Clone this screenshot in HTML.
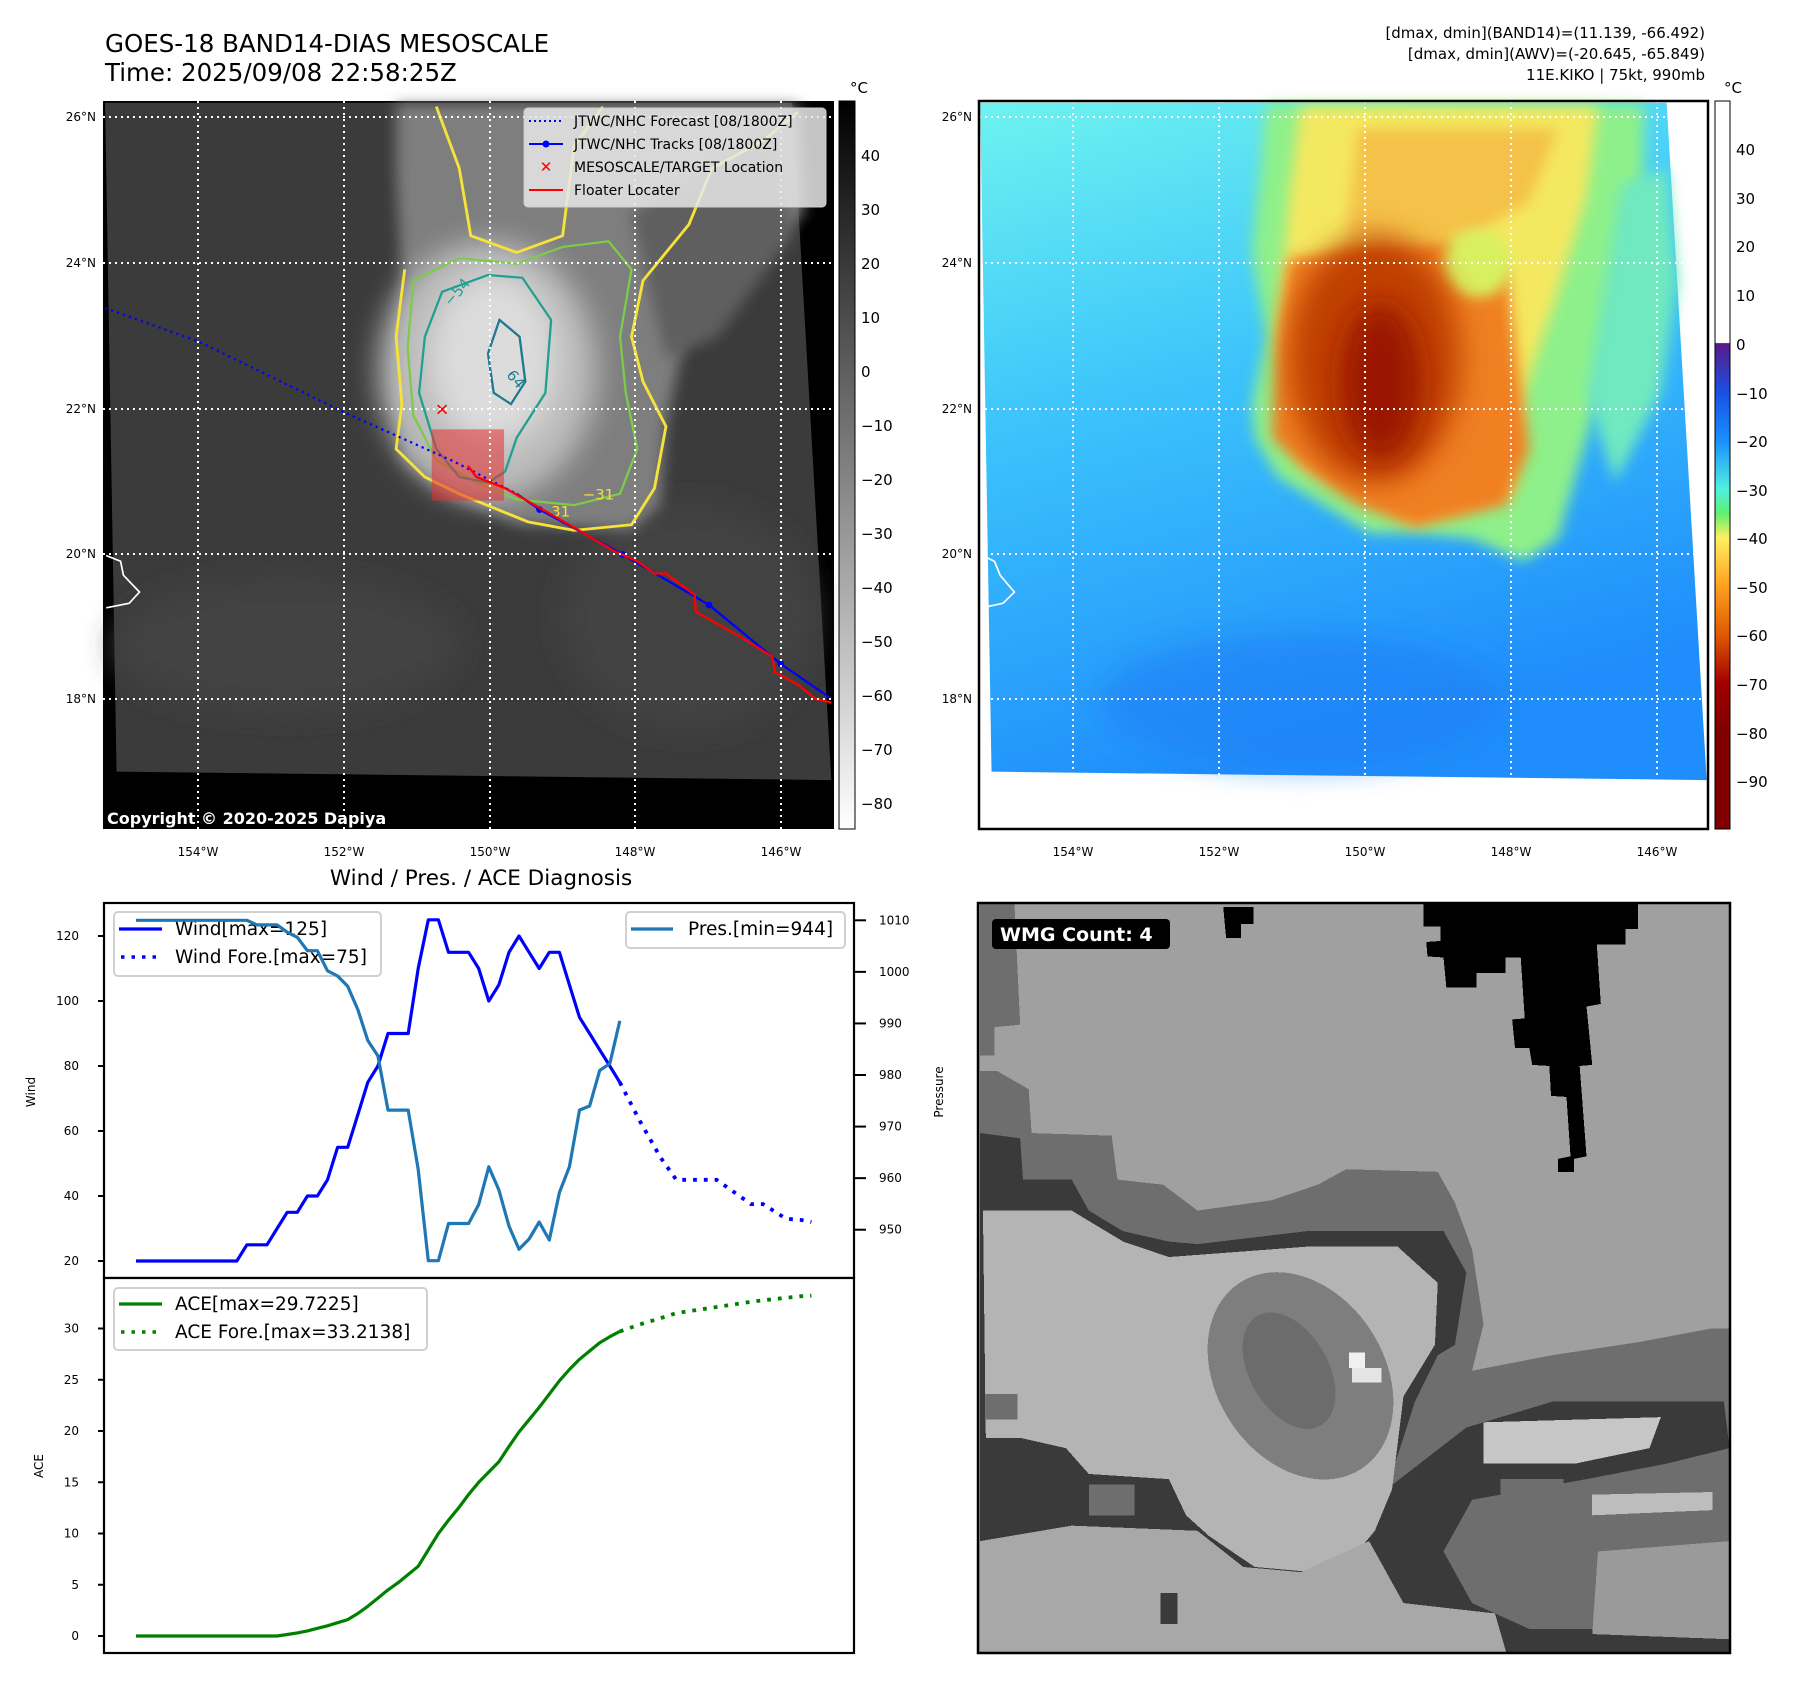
<!DOCTYPE html>
<html><head><meta charset="utf-8">
<style>
html,body{margin:0;padding:0;background:#fff;}
body{width:1797px;height:1690px;overflow:hidden;position:relative;font-family:"DejaVu Sans","Liberation Sans",sans-serif;}
svg text{font-family:"DejaVu Sans","Liberation Sans",sans-serif;}
</style></head>
<body>
<svg id="root" width="1797" height="1690" viewBox="0 0 1797 1690" xmlns="http://www.w3.org/2000/svg">
<defs>
  <filter id="blur6" x="-20%" y="-20%" width="140%" height="140%"><feGaussianBlur stdDeviation="6"/></filter>
  <filter id="blur12" x="-30%" y="-30%" width="160%" height="160%"><feGaussianBlur stdDeviation="12"/></filter>
  <filter id="blur25" x="-40%" y="-40%" width="180%" height="180%"><feGaussianBlur stdDeviation="25"/></filter>
  <linearGradient id="grayBar" x1="0" y1="0" x2="0" y2="1">
    <stop offset="0" stop-color="#000"/><stop offset="1" stop-color="#fff"/>
  </linearGradient>
  <linearGradient id="rainBar" x1="0" y1="0" x2="0" y2="1">
    <stop offset="0" stop-color="#fff"/><stop offset="0.332" stop-color="#fff"/>
    <stop offset="0.333" stop-color="#5a1a8a"/><stop offset="0.4" stop-color="#1a50e0"/>
    <stop offset="0.467" stop-color="#1a90ff"/><stop offset="0.533" stop-color="#50f0e0"/>
    <stop offset="0.567" stop-color="#60f070"/><stop offset="0.6" stop-color="#fff060"/>
    <stop offset="0.667" stop-color="#ffa020"/><stop offset="0.733" stop-color="#e05a00"/>
    <stop offset="0.8" stop-color="#a00000"/><stop offset="0.867" stop-color="#800000"/>
    <stop offset="1" stop-color="#800000"/>
  </linearGradient>
  <linearGradient id="seaGrad" x1="0" y1="0" x2="0.3" y2="1">
    <stop offset="0" stop-color="#6ef3ef"/><stop offset="0.45" stop-color="#3cc4fb"/>
    <stop offset="1" stop-color="#1f8dfb"/>
  </linearGradient>
</defs>

<!-- ============ TOP-LEFT MAP ============ -->
<g>
  <text x="105" y="52" font-size="24.5" fill="#000">GOES-18 BAND14-DIAS MESOSCALE</text>
  <text x="105" y="81" font-size="24.5" fill="#000">Time: 2025/09/08 22:58:25Z</text>
  <rect x="103" y="101" width="731" height="728" fill="#000"/>
  <g transform="scale(0.5741,0.5612)">
    <polygon points="183,183 1380,183 1448,1390 203,1375" fill="#3b3b3b"/>
    <ellipse cx="500" cy="1150" rx="300" ry="120" fill="#434343" filter="url(#blur25)"/>
    <ellipse cx="1200" cy="1100" rx="220" ry="200" fill="#424242" filter="url(#blur25)"/>
    <polygon points="690,185 1390,185 1400,380 1200,560 1160,760 1150,900 1100,945 900,935 780,880 700,820 690,700 700,500 690,300" fill="#7e7e7e" filter="url(#blur12)"/>
    <polygon points="1100,380 1350,230 1380,420 1250,600 1160,640" fill="#5e5e5e" filter="url(#blur12)"/>
    <ellipse cx="850" cy="660" rx="190" ry="230" fill="#bcbcbc" filter="url(#blur25)"/>
    <ellipse cx="860" cy="640" rx="110" ry="150" fill="#dcdcdc" filter="url(#blur25)"/>
    <path d="M705,480 L690,600 L700,720 L690,800 L740,850 L800,880 L860,905 L920,930 L1000,945 L1100,935 L1140,870 L1160,760 L1120,680 L1100,600 L1120,500 L1200,400 L1240,300 L1330,250 L1390,200 M1050,190 L1000,260 L980,420 L900,450 L820,420 L800,300 L760,190" fill="none" stroke="#f5e23a" stroke-width="5"/>
    <path d="M720,500 L710,620 L720,740 L760,820 L830,860 L900,890 L1000,900 L1080,880 L1110,800 L1090,700 L1080,600 L1100,480 L1060,430 L980,440 L900,470 L800,460 Z" fill="none" stroke="#7ccb4c" stroke-width="4"/>
    <path d="M770,520 L850,490 L910,495 L960,570 L950,700 L900,780 L880,840 L850,860 L800,850 L760,800 L730,700 L740,600 Z" fill="none" stroke="#20a090" stroke-width="4"/>
    <path d="M870,570 L905,600 L915,680 L890,720 L860,700 L850,630 Z" fill="none" stroke="#1f7a90" stroke-width="4"/>
    <text x="770" y="545" font-size="26" fill="#20a090" transform="rotate(-50 780 530)">−54</text>
    <text x="885" y="680" font-size="26" fill="#1f7a90" transform="rotate(50 895 670)">64</text>
    <text x="960" y="920" font-size="26" fill="#f5e23a">31</text>
    <text x="1015" y="890" font-size="26" fill="#f5e23a">−31</text>
    <path d="M185,990 L210,1000 L215,1025 L243,1055 L225,1075 L185,1083" fill="none" stroke="#fff" stroke-width="3"/>
    <rect x="752" y="765" width="126" height="127" fill="#e83030" fill-opacity="0.55"/>
    <path d="M183,549 L345,608 L600,735 L790,822 L900,880" fill="none" stroke="#0000ff" stroke-width="4" stroke-dasharray="4 7"/>
    <path d="M900,880 L940,908 L1085,988 L1235,1078 L1360,1183 L1448,1245" fill="none" stroke="#0000ff" stroke-width="4"/>
    <circle cx="940" cy="908" r="6" fill="#0000ff"/><circle cx="1085" cy="988" r="6" fill="#0000ff"/>
    <circle cx="1235" cy="1078" r="6" fill="#0000ff"/><circle cx="1360" cy="1183" r="6" fill="#0000ff"/>
    <path d="M815,830 L830,850 L880,870 L940,905 L1000,940 L1070,982 L1110,1000 L1140,1022 L1160,1022 L1210,1060 L1212,1090 L1250,1112 L1290,1135 L1345,1170 L1350,1198 L1390,1220 L1420,1245 L1448,1252" fill="none" stroke="#ff0000" stroke-width="4"/>
    <text x="770" y="740" font-size="30" font-weight="bold" fill="#ff0000" text-anchor="middle">✕</text>
  </g>
  <g stroke="#fff" stroke-width="2" stroke-dasharray="2 4">
    <line x1="103" y1="117" x2="834" y2="117"/><line x1="103" y1="263" x2="834" y2="263"/>
    <line x1="103" y1="409" x2="834" y2="409"/><line x1="103" y1="554" x2="834" y2="554"/>
    <line x1="103" y1="699" x2="834" y2="699"/>
    <line x1="198" y1="101" x2="198" y2="829"/><line x1="344" y1="101" x2="344" y2="829"/>
    <line x1="490" y1="101" x2="490" y2="829"/><line x1="635" y1="101" x2="635" y2="829"/>
    <line x1="781" y1="101" x2="781" y2="829"/>
  </g>
  <g>
    <rect x="524" y="108" width="302" height="99" rx="4" fill="#e8e8e8" fill-opacity="0.85" stroke="#ccc"/>
    <line x1="529" y1="121" x2="563" y2="121" stroke="#0000ff" stroke-width="2" stroke-dasharray="2 3"/>
    <text x="574" y="126" font-size="14">JTWC/NHC Forecast [08/1800Z]</text>
    <line x1="529" y1="144" x2="563" y2="144" stroke="#0000ff" stroke-width="2"/><circle cx="546" cy="144" r="3.5" fill="#0000ff"/>
    <text x="574" y="149" font-size="14">JTWC/NHC Tracks [08/1800Z]</text>
    <text x="546" y="172" font-size="15" font-weight="bold" fill="#ff0000" text-anchor="middle">✕</text>
    <text x="574" y="172" font-size="14">MESOSCALE/TARGET Location</text>
    <line x1="529" y1="190" x2="563" y2="190" stroke="#ff0000" stroke-width="2"/>
    <text x="574" y="195" font-size="14">Floater Locater</text>
  </g>
  <text x="107" y="824" font-size="16" font-weight="bold" fill="#fff">Copyright © 2020-2025 Dapiya</text>
  <g font-size="12" text-anchor="end">
    <text x="96" y="121">26°N</text><text x="96" y="267">24°N</text><text x="96" y="413">22°N</text><text x="96" y="558">20°N</text><text x="96" y="703">18°N</text>
  </g>
  <g font-size="12" text-anchor="middle">
    <text x="198" y="856">154°W</text><text x="344" y="856">152°W</text><text x="490" y="856">150°W</text><text x="635" y="856">148°W</text><text x="781" y="856">146°W</text>
  </g>
  <rect x="839" y="101" width="16" height="728" fill="url(#grayBar)" stroke="#000"/>
  <text x="850" y="93" font-size="15">°C</text>
  <g font-size="15">
    <text x="861" y="161">40</text><text x="861" y="215">30</text><text x="861" y="269">20</text><text x="861" y="323">10</text><text x="861" y="377">0</text>
    <text x="861" y="431">−10</text><text x="861" y="485">−20</text><text x="861" y="539">−30</text><text x="861" y="593">−40</text><text x="861" y="647">−50</text>
    <text x="861" y="701">−60</text><text x="861" y="755">−70</text><text x="861" y="809">−80</text>
  </g>
</g>

<!-- ============ TOP-RIGHT MAP ============ -->
<g>
  <g font-size="15" text-anchor="end">
    <text x="1705" y="38">[dmax, dmin](BAND14)=(11.139, -66.492)</text>
    <text x="1705" y="59">[dmax, dmin](AWV)=(-20.645, -65.849)</text>
    <text x="1705" y="80">11E.KIKO | 75kt, 990mb</text>
  </g>
  <rect x="979" y="101" width="729" height="728" fill="#fff"/>
  <g transform="translate(900,0) scale(0.5721,0.5612)">
    <polygon points="140,183 1340,183 1410,1390 160,1375" fill="url(#seaGrad)"/>
    <ellipse cx="700" cy="1250" rx="350" ry="120" fill="#1a80f5" fill-opacity="0.6" filter="url(#blur25)"/>
    <polygon points="640,185 1300,185 1300,400 1250,600 1200,780 1150,960 1090,1000 1000,960 900,950 820,950 740,900 660,850 620,780 615,720 640,600 615,450 630,300" fill="#8ef08a" filter="url(#blur12)"/>
    <polygon points="1260,330 1340,300 1360,500 1330,700 1250,860 1200,700" fill="#70e8c0" filter="url(#blur12)"/>
    <polygon points="700,190 1220,190 1200,350 1150,520 1090,700 1070,880 900,930 700,830 660,600 680,350" fill="#f4e860" filter="url(#blur12)"/>
    <polygon points="800,230 1150,230 1100,360 1000,420 900,440 780,420" fill="#f4a838" fill-opacity="0.6" filter="url(#blur12)"/>
    <polygon points="680,460 960,430 1060,480 1080,650 1100,800 1060,900 900,940 800,900 700,830 650,780 660,600" fill="#f08020" filter="url(#blur12)"/>
    <ellipse cx="1010" cy="470" rx="60" ry="60" fill="#d8f060" filter="url(#blur12)"/>
    <ellipse cx="830" cy="640" rx="150" ry="220" fill="#c04000" filter="url(#blur25)"/>
    <ellipse cx="840" cy="680" rx="70" ry="140" fill="#9a1500" filter="url(#blur25)"/>
    <path d="M140,988 L165,1000 L175,1025 L200,1055 L180,1075 L143,1083" fill="none" stroke="#fff" stroke-width="3"/>
  </g>
  <g stroke="#fff" stroke-width="2" stroke-dasharray="2 4">
    <line x1="979" y1="117" x2="1708" y2="117"/><line x1="979" y1="263" x2="1708" y2="263"/>
    <line x1="979" y1="409" x2="1708" y2="409"/><line x1="979" y1="554" x2="1708" y2="554"/>
    <line x1="979" y1="699" x2="1708" y2="699"/>
    <line x1="1073" y1="101" x2="1073" y2="775"/><line x1="1219" y1="101" x2="1219" y2="775"/>
    <line x1="1365" y1="101" x2="1365" y2="775"/><line x1="1511" y1="101" x2="1511" y2="775"/>
    <line x1="1657" y1="101" x2="1657" y2="775"/>
  </g>
  <rect x="979" y="101" width="729" height="728" fill="none" stroke="#000" stroke-width="2.5"/>
  <g font-size="12" text-anchor="end">
    <text x="972" y="121">26°N</text><text x="972" y="267">24°N</text><text x="972" y="413">22°N</text><text x="972" y="558">20°N</text><text x="972" y="703">18°N</text>
  </g>
  <g font-size="12" text-anchor="middle">
    <text x="1073" y="856">154°W</text><text x="1219" y="856">152°W</text><text x="1365" y="856">150°W</text><text x="1511" y="856">148°W</text><text x="1657" y="856">146°W</text>
  </g>
  <rect x="1715" y="101" width="15" height="728" fill="url(#rainBar)" stroke="#000"/>
  <text x="1724" y="93" font-size="15">°C</text>
  <g font-size="15">
    <text x="1736" y="155">40</text><text x="1736" y="204">30</text><text x="1736" y="252">20</text><text x="1736" y="301">10</text><text x="1736" y="350">0</text>
    <text x="1736" y="399">−10</text><text x="1736" y="447">−20</text><text x="1736" y="496">−30</text><text x="1736" y="544">−40</text><text x="1736" y="593">−50</text>
    <text x="1736" y="641">−60</text><text x="1736" y="690">−70</text><text x="1736" y="739">−80</text><text x="1736" y="787">−90</text>
  </g>
</g>

<!-- ============ BOTTOM-LEFT CHART ============ -->
<g id="chart">
  <text x="481" y="885" font-size="21.5" text-anchor="middle">Wind / Pres. / ACE Diagnosis</text>
  <rect x="104" y="903" width="750" height="375" fill="#fff" stroke="#000" stroke-width="2.2"/>
  <rect x="104" y="1278" width="750" height="375" fill="#fff" stroke="#000" stroke-width="2.2"/>
  <text transform="translate(35,1092) rotate(-90)" font-size="12" text-anchor="middle">Wind</text>
  <text transform="translate(43,1466) rotate(-90)" font-size="12" text-anchor="middle">ACE</text>
  <text transform="translate(943,1092) rotate(-90)" font-size="12" text-anchor="middle">Pressure</text>
  <g id="g-ticks"></g>
  <g id="g-series"></g>
  <g>
    <rect x="114" y="912" width="267" height="64" rx="4" fill="#fff" fill-opacity="0.8" stroke="#d0d0d0" stroke-width="2"/>
    <line x1="119" y1="929" x2="162" y2="929" stroke="#0000ff" stroke-width="3.2"/>
    <text x="175" y="935" font-size="18.5">Wind[max=125]</text>
    <line x1="121" y1="957" x2="162" y2="957" stroke="#0000ff" stroke-width="3.5" stroke-dasharray="3.5 7"/>
    <text x="175" y="963" font-size="18.5">Wind Fore.[max=75]</text>
  </g>
  <g id="g-pres"></g>
  <g>
    <rect x="626" y="912" width="219" height="36" rx="4" fill="#fff" fill-opacity="0.8" stroke="#d0d0d0" stroke-width="2"/>
    <line x1="631" y1="929" x2="673" y2="929" stroke="#1f77b4" stroke-width="3.2"/>
    <text x="688" y="935" font-size="18.5">Pres.[min=944]</text>
  </g>
  <g>
    <rect x="114" y="1288" width="313" height="62" rx="4" fill="#fff" fill-opacity="0.8" stroke="#d0d0d0" stroke-width="2"/>
    <line x1="119" y1="1304" x2="162" y2="1304" stroke="#008000" stroke-width="3.2"/>
    <text x="175" y="1310" font-size="18.5">ACE[max=29.7225]</text>
    <line x1="121" y1="1332" x2="162" y2="1332" stroke="#008000" stroke-width="3.5" stroke-dasharray="3.5 7"/>
    <text x="175" y="1338" font-size="18.5">ACE Fore.[max=33.2138]</text>
  </g>
</g>

<!-- ============ BOTTOM-RIGHT WMG ============ -->
<g>
  <svg x="978" y="903" width="752" height="750" viewBox="978 903 752 750" overflow="hidden">
  <g transform="translate(900,880) scale(0.5721,0.5165)" shape-rendering="crispEdges">
    <rect x="137" y="45" width="1313" height="1452" fill="#a0a0a0"/>
    <polygon points="140,45 200,45 210,280 165,285 165,340 140,340" fill="#6e6e6e"/>
    <polygon points="140,370 170,370 225,405 230,490 370,495 380,580 460,590 520,640 650,620 730,590 780,560 940,565 970,625 1000,715 1020,860 1000,950 1140,920 1290,895 1420,868 1450,868 1450,1497 140,1497" fill="#6e6e6e"/>
    <polygon points="140,490 210,500 215,580 300,580 330,640 390,680 470,700 520,705 710,680 950,680 990,760 970,900 940,920 900,1010 880,1080 850,1180 990,1060 1140,1010 1440,1010 1450,1100 1340,1130 1200,1160 1000,1200 950,1300 1000,1400 1100,1450 1450,1450 1450,1497 140,1497" fill="#3a3a3a"/>
    <polygon points="145,640 300,640 390,700 470,730 710,710 870,710 940,780 935,900 880,1000 860,1180 830,1260 800,1300 720,1340 620,1330 540,1270 500,1230 470,1160 330,1150 290,1100 210,1080 150,1080" fill="#b4b4b4"/>
    <polygon points="300,1250 520,1260 600,1330 700,1340 820,1280 880,1400 1040,1420 1060,1497 140,1497 140,1280" fill="#a8a8a8"/>
    <polygon points="1020,1050 1330,1040 1310,1100 1180,1130 1020,1130" fill="#c6c6c6"/>
    <polygon points="1210,1190 1420,1185 1420,1220 1210,1230" fill="#bdbdbd"/>
    <polygon points="1220,1300 1450,1280 1450,1470 1210,1460" fill="#9a9a9a"/>
    <ellipse cx="700" cy="960" rx="150" ry="210" fill="#7e7e7e" transform="rotate(-25 700 960)"/>
    <ellipse cx="680" cy="950" rx="70" ry="120" fill="#6c6c6c" transform="rotate(-25 680 950)"/>
    <rect x="785" y="915" width="28" height="30" fill="#f0f0f0"/><rect x="790" y="945" width="52" height="28" fill="#e4e4e4"/>
    <polygon points="885,45 1290,45 1290,95 1268,95 1268,125 1218,125 1225,240 1200,245 1210,358 1188,360 1200,535 1178,540 1178,565 1150,565 1150,540 1172,535 1165,420 1138,418 1135,360 1105,358 1100,325 1075,325 1070,270 1092,268 1085,150 1058,150 1058,180 1008,180 1008,208 955,208 950,150 922,148 920,120 945,118 945,90 915,90 915,45" fill="#000"/>
    <polygon points="565,52 618,52 618,85 596,85 596,112 570,112" fill="#000"/>
    <rect x="330" y="1170" width="80" height="60" fill="#6e6e6e"/>
    <rect x="150" y="995" width="55" height="50" fill="#6e6e6e"/>
    <rect x="1050" y="1160" width="110" height="60" fill="#6e6e6e"/>
    <rect x="455" y="1380" width="30" height="60" fill="#3a3a3a"/>
  </g>
  </svg>
  <rect x="978" y="903" width="752" height="750" fill="none" stroke="#000" stroke-width="2.5"/>
  <rect x="992" y="919" width="178" height="30" rx="4" fill="#000"/>
  <text x="1000" y="941" font-size="19" font-weight="bold" fill="#fff">WMG Count: 4</text>
</g>
</svg>

<script>
const windObs = [20,20,20,20,20,20,20,20,20,20,20,25,25,25,30,35,35,40,40,45,55,55,65,75,80,90,90,90,110,125,125,115,115,115,110,100,105,115,120,115,110,115,115,105,95,90,85,80,75];
const foreIdx = [48,50,52,53.6,57.6,61,62.2,64.5,66,67];
const windFore = [75,63,52,45,45,37.5,37.5,33,32.6,32];
const presObs = [1010,1010,1010,1010,1010,1010,1010,1010,1010,1010,1010,1010,1009.1,1009.1,1009.1,1007.7,1006.7,1004.1,1004.1,1000.2,999.2,997.2,992.7,986.7,983.7,973.2,973.2,973.2,961.7,944,944,951.2,951.2,951.2,954.9,962.2,957.7,950.7,946.2,948.2,951.5,948,957.2,962.2,973.2,974,980.9,982.2,990.5];
const aceObs = [0,0,0,0,0,0,0,0,0,0,0,0,0,0,0,0.15,0.3,0.5,0.75,1.0,1.3,1.6,2.2,2.9,3.7,4.5,5.2,6.0,6.8,8.4,10,11.3,12.5,13.8,15.0,16.0,17.0,18.5,19.9,21.1,22.3,23.6,24.9,26.0,27.0,27.8,28.6,29.2,29.72];
const aceFore = [29.72,30.4,31.0,31.5,32.1,32.6,32.75,33.0,33.15,33.21];
const windTicks = [20,40,60,80,100,120];
const presTicks = [950,960,970,980,990,1000,1010];
const aceTicks = [0,5,10,15,20,25,30];

const NS = "http://www.w3.org/2000/svg";
const xS = i => 136 + i * 10.08;
const yW = v => 1261 - (v - 20) * 3.25;
const yP = p => 920.3 + (1010 - p) * 5.157;
const yA = a => 1636 - a * 10.25;

function mk(tag, attrs, parent) {
  const el = document.createElementNS(NS, tag);
  for (const k in attrs) el.setAttribute(k, attrs[k]);
  parent.appendChild(el);
  return el;
}
function pts(xs, ys, fy) { return xs.map((x, k) => xS(x).toFixed(1) + "," + fy(ys[k]).toFixed(1)).join(" "); }
const idx = windObs.map((_, i) => i);

const gt = document.getElementById("g-ticks");
windTicks.forEach(v => {
  const l = mk("line", {x1: 98, x2: 104, y1: yW(v), y2: yW(v), stroke: "#000", "stroke-width": 2}, gt);
  
  
  const t = mk("text", {x: 79, y: yW(v) + 4, "font-size": 12, "text-anchor": "end"}, gt);
  
  
  t.textContent = v;
});
presTicks.forEach(v => {
  const l = mk("line", {x1: 854, x2: 866, y1: yP(v), y2: yP(v), stroke: "#000", "stroke-width": 2}, gt);
  
  
  const t = mk("text", {x: 879, y: yP(v) + 4, "font-size": 12}, gt);
  
  
  t.textContent = v;
});
aceTicks.forEach(v => {
  const l = mk("line", {x1: 98, x2: 104, y1: yA(v), y2: yA(v), stroke: "#000", "stroke-width": 2}, gt);
  
  
  const t = mk("text", {x: 79, y: yA(v) + 4, "font-size": 12, "text-anchor": "end"}, gt);
  
  
  t.textContent = v;
});

const gs = document.getElementById("g-series");
const w1 = mk("polyline", {points: pts(idx, windObs, yW), fill: "none", stroke: "#0000ff", "stroke-width": 3.2, "stroke-linejoin": "round"}, gs);


const w2 = mk("polyline", {points: pts(foreIdx, windFore, yW), fill: "none", stroke: "#0000ff", "stroke-width": 3.8, "stroke-dasharray": "3.8 7"}, gs);


const a1 = mk("polyline", {points: pts(idx, aceObs, yA), fill: "none", stroke: "#008000", "stroke-width": 3.2, "stroke-linejoin": "round"}, gs);


const a2 = mk("polyline", {points: pts(foreIdx, aceFore, yA), fill: "none", stroke: "#008000", "stroke-width": 3.8, "stroke-dasharray": "3.8 7"}, gs);



const gp = document.getElementById("g-pres");
const p1 = mk("polyline", {points: pts(idx, presObs, yP), fill: "none", stroke: "#1f77b4", "stroke-width": 3.2, "stroke-linejoin": "round"}, gp);


</script>
</body></html>
